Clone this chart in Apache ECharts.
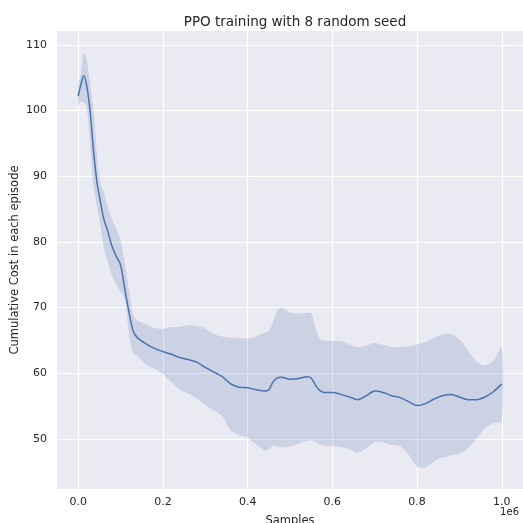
<!DOCTYPE html>
<html>
<head>
<meta charset="utf-8">
<script src="https://cdn.jsdelivr.net/npm/echarts@6/dist/echarts.min.js"></script>
<style>
  html, body { margin: 0; padding: 0; background: #ffffff; }
  #chart { width: 523px; height: 523px; }
</style>
</head>
<body>
<div id="chart"></div>
<script>
// Environment steps at which the seeds were evaluated
const samples = [
  0, 6000, 13000, 20000, 28000, 36000, 44000, 52000, 60000, 70000,
  80000, 90000, 100000, 110000, 120000, 130000, 140000, 160000, 180000, 200000,
  220000, 240000, 260000, 280000, 300000, 320000, 340000, 360000, 380000, 400000,
  420000, 440000, 450000, 460000, 470000, 480000, 500000, 520000, 540000, 550000,
  560000, 570000, 580000, 600000, 620000, 640000, 660000, 680000, 700000, 720000,
  740000, 760000, 780000, 800000, 820000, 840000, 860000, 880000, 900000, 920000,
  940000, 960000, 980000, 1000000
];

// Mean cumulative cost over the 8 seeds
const meanCost = [
  102.2, 103.8, 105.3, 103.8, 100.0, 94.0, 89.2, 86.3, 83.6, 81.6,
  79.3, 77.8, 76.5, 72.8, 69.3, 66.4, 65.4, 64.5, 63.8, 63.3,
  62.9, 62.4, 62.1, 61.7, 60.9, 60.2, 59.5, 58.4, 57.9, 57.8,
  57.5, 57.3, 57.5, 58.7, 59.3, 59.4, 59.1, 59.2, 59.5, 59.3,
  58.2, 57.4, 57.1, 57.1, 56.8, 56.4, 56.0, 56.6, 57.3, 57.1,
  56.6, 56.3, 55.7, 55.1, 55.4, 56.1, 56.6, 56.8, 56.4, 56.0,
  56.0, 56.4, 57.2, 58.4
];

// Upper edge of the confidence band
const upperCost = [
  104.0, 105.5, 108.8, 107.8, 104.0, 100.0, 93.5, 89.0, 87.6, 85.2,
  83.4, 82.0, 80.3, 76.6, 72.7, 68.8, 68.0, 67.5, 66.9, 66.8,
  67.0, 67.1, 67.3, 67.2, 66.8, 66.0, 65.6, 65.4, 65.4, 65.3,
  65.6, 66.2, 66.5, 67.8, 69.6, 70.0, 69.3, 69.1, 69.2, 69.1,
  67.0, 65.3, 65.0, 64.9, 64.9, 64.4, 64.0, 64.2, 64.6, 64.3,
  64.0, 64.0, 64.1, 64.4, 64.8, 65.4, 65.9, 66.0, 65.2, 63.5,
  61.8, 61.2, 61.9, 64.0
];

// Lower edge of the confidence band
const lowerCost = [
  100.7, 101.3, 101.2, 100.6, 95.0, 88.5, 85.6, 82.8, 79.3, 76.9,
  74.9, 73.5, 72.4, 71.3, 66.0, 63.1, 62.7, 61.3, 60.7, 59.9,
  58.6, 57.5, 56.9, 56.2, 55.2, 54.4, 53.5, 51.3, 50.6, 50.2,
  49.2, 48.3, 48.5, 49.0, 48.9, 48.7, 48.9, 49.3, 49.7, 49.8,
  49.5, 49.2, 49.0, 48.9, 48.8, 48.5, 47.9, 48.6, 49.5, 49.5,
  49.1, 48.9, 47.6, 45.8, 45.7, 46.6, 47.2, 47.5, 47.8, 48.6,
  50.0, 51.6, 52.4, 52.7
];

// Tick positions
const xTicks = [0, 200000, 400000, 600000, 800000, 1000000];
const yTicks = [50, 60, 70, 80, 90, 100, 110];

const bandData = samples.map((s, i) => [s, lowerCost[i], upperCost[i]]);
const meanData = samples.map((s, i) => [s, meanCost[i]]);

const FONT = 'DejaVu Sans';
const TEXT = '#262626';

const chart = echarts.init(document.getElementById('chart'), null, { renderer: 'canvas' });

chart.setOption({
  animation: false,
  backgroundColor: '#ffffff',
  title: {
    text: 'PPO training with 8 random seed',
    left: 290,
    textAlign: 'center',
    top: 10,
    textStyle: { fontFamily: FONT, fontSize: 13.5, fontWeight: 'normal', color: TEXT }
  },
  grid: {
    left: 57, right: 0, top: 31, bottom: 34,
    outerBoundsMode: 'none',
    containLabel: false,
    show: true, backgroundColor: '#eaeaf2', borderWidth: 0
  },
  xAxis: {
    type: 'value',
    min: -50000,
    max: 1050000,
    name: 'Samples',
    nameLocation: 'middle',
    nameGap: 26,
    nameMoveOverlap: false,
    nameTextStyle: { fontFamily: FONT, fontSize: 11.5, color: TEXT },
    axisLine: { show: false },
    axisTick: { show: false, customValues: xTicks },
    axisLabel: {
      customValues: xTicks,
      margin: 8,
      fontFamily: FONT, fontSize: 11, color: TEXT,
      formatter: v => (v / 1e6).toFixed(1)
    },
    splitLine: { show: true, lineStyle: { color: '#ffffff', width: 1.2 } }
  },
  yAxis: {
    type: 'value',
    min: 42.4,
    max: 112.1,
    name: 'Cumulative Cost in each episode',
    nameLocation: 'middle',
    nameGap: 36,
    nameMoveOverlap: false,
    nameTextStyle: { fontFamily: FONT, fontSize: 11.5, color: TEXT },
    axisLine: { show: false },
    axisTick: { show: false, customValues: yTicks },
    axisLabel: {
      customValues: yTicks,
      margin: 10,
      fontFamily: FONT, fontSize: 11, color: TEXT,
      formatter: v => String(Math.round(v))
    },
    splitLine: { show: true, lineStyle: { color: '#ffffff', width: 1.2 } }
  },
  graphic: [{
    type: 'text',
    right: 4,
    top: 507,
    style: { text: '1e6', font: '10px "DejaVu Sans"', fill: TEXT }
  }],
  series: [
    {
      // shaded spread between lower and upper edges
      type: 'custom',
      name: 'band',
      data: bandData,
      encode: { x: 0, y: [1, 2] },
      silent: true,
      z: 1,
      renderItem: function (params, api) {
        if (params.dataIndex !== 0) return null;
        const top = [], bottom = [];
        for (let i = 0; i < bandData.length; i++) {
          top.push(api.coord([bandData[i][0], bandData[i][2]]));
          bottom.push(api.coord([bandData[i][0], bandData[i][1]]));
        }
        return {
          type: 'polygon',
          shape: { points: top.concat(bottom.reverse()), smooth: 0.3 },
          style: { fill: 'rgba(76,114,176,0.2)', stroke: 'none' }
        };
      }
    },
    {
      type: 'line',
      name: 'mean',
      data: meanData,
      showSymbol: false,
      smooth: 0.3,
      z: 2,
      lineStyle: { color: '#4c72b0', width: 1.5 },
      itemStyle: { color: '#4c72b0' }
    }
  ]
});
</script>
</body>
</html>
